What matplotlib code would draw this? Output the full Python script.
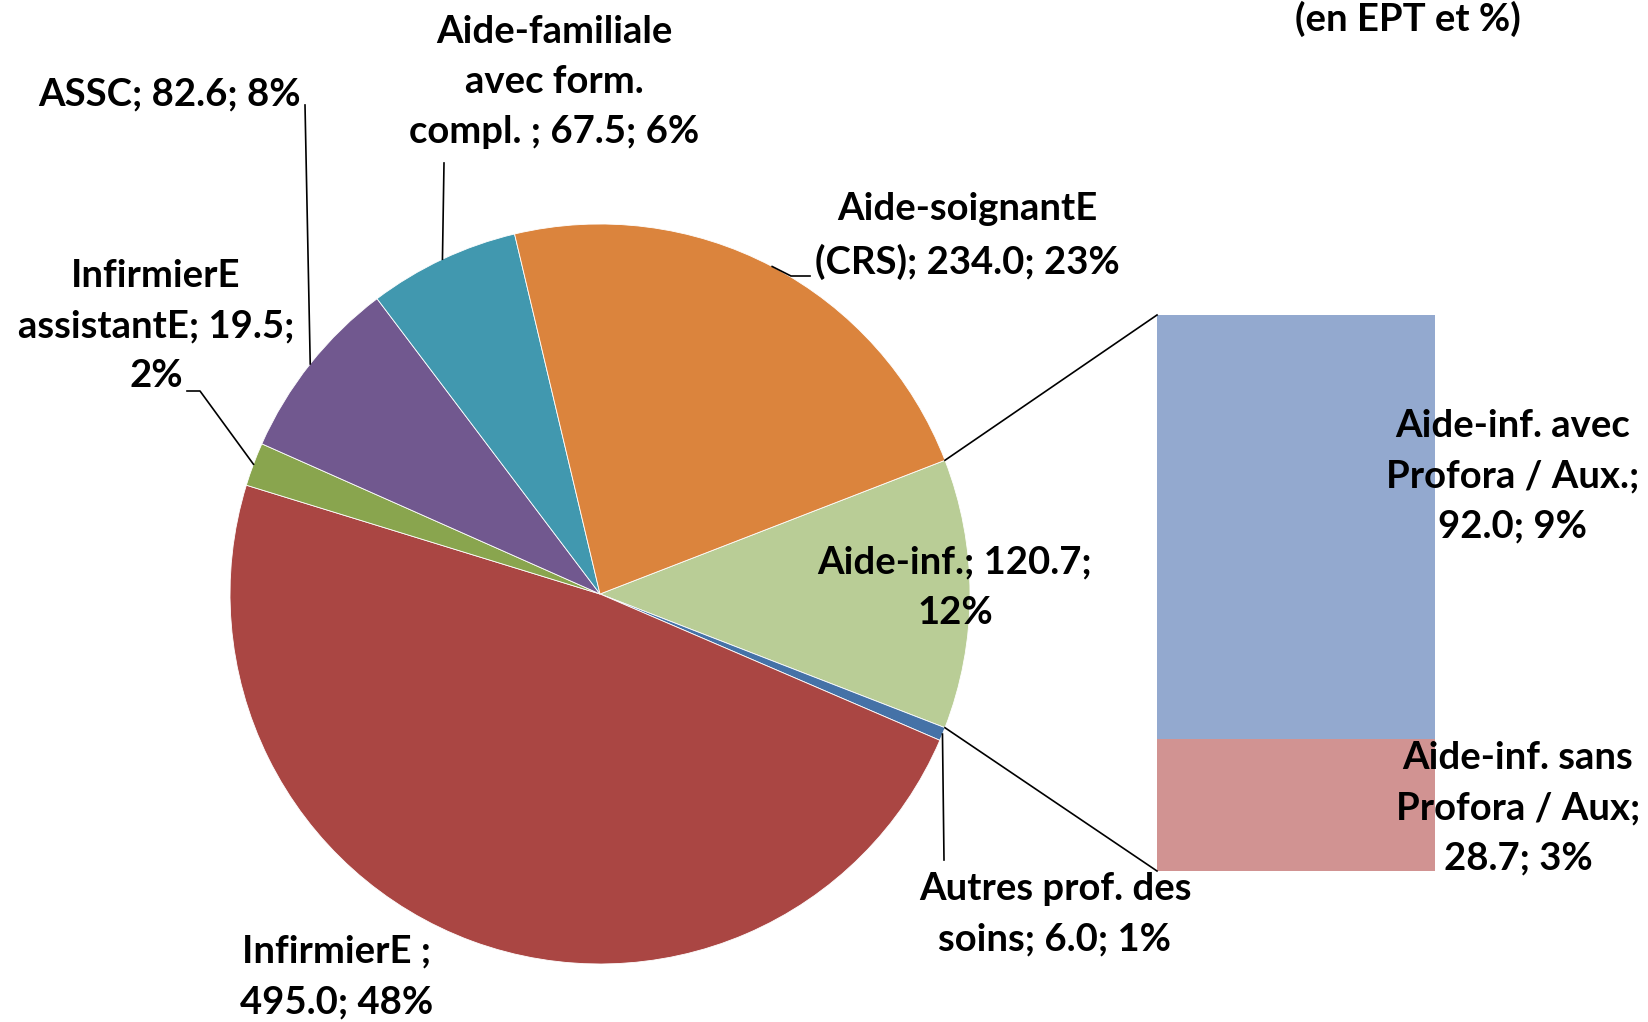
import numpy as np
import matplotlib.pyplot as plt

# pie categories, clockwise from the "Aide-inf." slice (which is split into the bar)
pie_labels = ["Aide-inf.; 120.7;\n12%",
              "Autres prof. des\nsoins; 6.0; 1%",
              "InfirmierE ;\n495.0; 48%",
              "InfirmierE\nassistantE; 19.5;\n2%",
              "ASSC; 82.6; 8%",
              "Aide-familiale\navec form.\ncompl. ; 67.5; 6%",
              "Aide-soignantE\n(CRS); 234.0; 23%"]
pie_values = [120.7, 6.0, 495.0, 19.5, 82.6, 67.5, 234.0]
pie_colors = ["#B9CD96", "#4572A7", "#AA4643", "#89A54E", "#71588F", "#4198AF", "#DB843D"]

# breakdown of "Aide-inf." shown in the stacked bar (bottom first)
bar_labels = ["Aide-inf. sans\nProfora / Aux;\n28.7; 3%",
              "Aide-inf. avec\nProfora / Aux.;\n92.0; 9%"]
bar_values = [28.7, 92.0]
bar_colors = ["#D19392", "#93A9CF"]

W, H = 1649, 1022
fig = plt.figure(figsize=(W / 100, H / 100), dpi=100)
ax = fig.add_axes([0, 0, 1, 1])

plt.rcParams['font.family'] = ['Lato', 'DejaVu Sans']
font = dict(fontsize=27.5, fontweight='bold', ha='center', va='center', linespacing=1.58)

cx, cy, r = 600, H - 594, 370
start = 180 * pie_values[0] / sum(pie_values)
wedges, _ = ax.pie(pie_values, colors=pie_colors, startangle=start, counterclock=False,
                   center=(cx, cy), radius=r, frame=True,
                   wedgeprops=dict(linewidth=0.6, edgecolor='white'))
ax.set_xlim(0, W)
ax.set_ylim(0, H)
ax.set_aspect('equal')
ax.axis('off')

# stacked bar for the split slice
bx, bw, btop, bbot = 1296, 278, H - 315, H - 871
k = (btop - bbot) / sum(bar_values)
bottom = bbot
for v, c in zip(bar_values, bar_colors):
    ax.bar(bx, v * k, width=bw, bottom=bottom, color=c, linewidth=0)
    bottom += v * k

# connector lines from the slice edges to the bar corners
for ang, yc in [(start, btop), (-start, bbot)]:
    a = np.radians(ang)
    ax.plot([cx + r * np.cos(a), bx - bw / 2], [cy + r * np.sin(a), yc], color='black', lw=1.2)

# label positions (image pixels) and leader line elbows
label_pos = [(955, 588), (1055, 914), (337, 977), (156, 326), (170, 94), (554, 82), (967, 236)]
leaders = {1: [(944, 860)],
           3: [(200, 391), (187, 391)],
           4: [(305, 105)],
           5: [(444, 163)],
           6: [(791, 276), (810, 276)]}

for i, w in enumerate(wedges):
    x, y = label_pos[i]
    ax.text(x, H - y, pie_labels[i], **font)
    if i in leaders:
        mid = np.radians((w.theta1 + w.theta2) / 2)
        xs = [cx + r * np.cos(mid)] + [p[0] for p in leaders[i]]
        ys = [cy + r * np.sin(mid)] + [H - p[1] for p in leaders[i]]
        ax.plot(xs, ys, color='black', lw=1.2)

ax.text(1513, H - 476, bar_labels[1], **font)
ax.text(1518, H - 808, bar_labels[0], **font)
ax.text(1408, H - 19, "(en EPT et %)", **font)

fig.savefig('out.png', dpi=100)
